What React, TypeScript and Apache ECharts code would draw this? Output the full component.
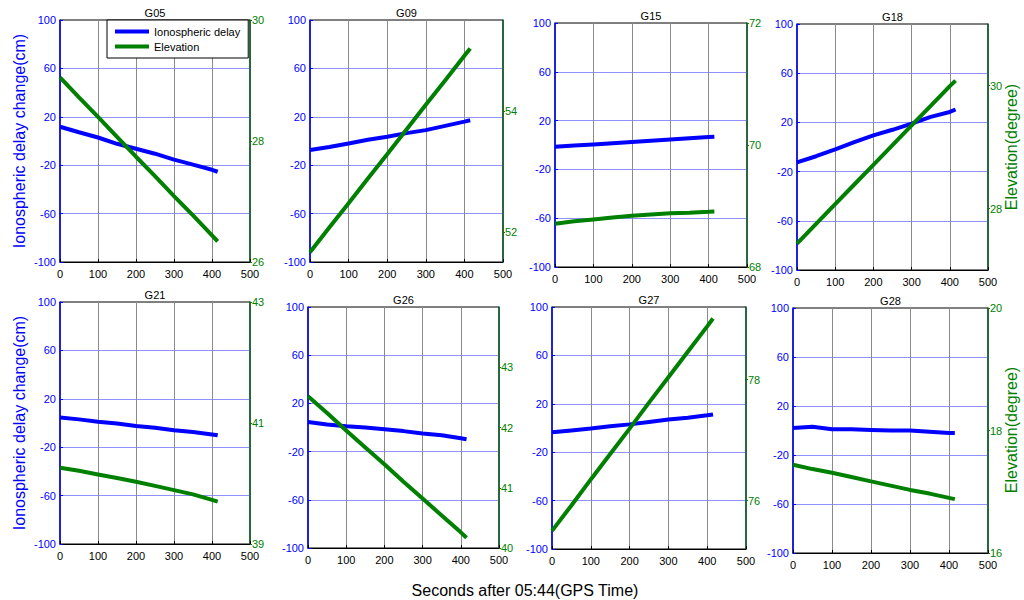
import React, { useEffect, useRef } from 'react';
import * as echarts from 'echarts';

// ---- data ----
const sats = ['G05', 'G09', 'G15', 'G18', 'G21', 'G26', 'G27', 'G28'];
const times = [0, 50, 100, 150, 200, 250, 300, 350, 400, 415];
const delayTicks = [-100, -60, -20, 20, 60, 100];

// ionospheric delay change (cm)
const delayG05 = [11.8, 7.2, 2.9, -2.3, -6.4, -10.5, -15.4, -19.5, -23.8, -25.4];
const delayG09 = [-7.5, -5, -2, 1, 3.5, 6.5, 9, 12.5, 16, 17.2];
const delayG15 = [-1.5, -0.5, 0.5, 1.5, 2.5, 3.5, 4.5, 5.5, 6.5, 6.8];
const delayG18 = [-12.5, -7.5, -2, 4, 9.5, 14, 19, 24.5, 28.5, 30.5];
const delayG21 = [4.5, 3, 1, -0.5, -2.5, -4, -6, -7.5, -9.5, -10.2];
const delayG26 = [4.5, 2.5, 1, 0, -1.5, -3, -5, -6.5, -9, -9.8];
const delayG27 = [-3.5, -2, -0.5, 1.5, 3, 5, 7, 8.5, 10.5, 11.2];
const delayG28 = [2, 3, 1, 1, 0.5, 0, 0, -1, -2, -2];

// elevation (degree)
const elevG05 = [29.05, 28.72, 28.4, 28.07, 27.74, 27.42, 27.09, 26.77, 26.44, 26.34];
const elevG09 = [51.66, 52.07, 52.47, 52.88, 53.28, 53.69, 54.1, 54.5, 54.91, 55.03];
const elevG15 = [68.71, 68.75, 68.78, 68.81, 68.84, 68.86, 68.88, 68.89, 68.905, 68.91];
const elevG18 = [27.43, 27.75, 28.07, 28.39, 28.71, 29.03, 29.35, 29.67, 29.99, 30.08];
const elevG21 = [40.26, 40.21, 40.15, 40.09, 40.03, 39.96, 39.89, 39.82, 39.73, 39.7];
const elevG26 = [42.52, 42.24, 41.95, 41.67, 41.39, 41.1, 40.82, 40.54, 40.26, 40.17];
const elevG27 = [75.5, 75.92, 76.35, 76.77, 77.19, 77.62, 78.04, 78.46, 78.88, 79.01];
const elevG28 = [17.44, 17.37, 17.31, 17.24, 17.17, 17.1, 17.03, 16.97, 16.9, 16.88];

const delays = [delayG05, delayG09, delayG15, delayG18, delayG21, delayG26, delayG27, delayG28];
const elevs = [elevG05, elevG09, elevG15, elevG18, elevG21, elevG26, elevG27, elevG28];

const elevMin = [26, 51.5, 68, 27, 39, 40, 75.2, 16];
const elevMax = [30, 55.5, 72, 31, 43, 44, 79.2, 20];
const elevTicks = [
  [26, 28, 30],
  [52, 54],
  [68, 70, 72],
  [28, 30],
  [39, 41, 43],
  [40, 41, 42, 43],
  [76, 78],
  [16, 18, 20],
];

// ---- layout (left, top, width, height) ----
const layout = [
  [60, 20, 190, 242],
  [310, 20, 193, 242],
  [555, 23, 192, 244],
  [797, 24, 191, 246],
  [60, 302, 190, 242],
  [308, 307, 191, 241],
  [552, 307, 194, 242],
  [793, 308, 195, 245],
];

const BLUE = '#0000ff';
const GREEN = '#008000';
const FONT = 'Liberation Sans, Arial, Helvetica, sans-serif';

export default function App() {
  const ref = useRef<HTMLDivElement>(null);

  useEffect(() => {
    document.body.style.margin = '0';
    if (!ref.current) return;
    const chart = echarts.init(ref.current, undefined, { renderer: 'svg' });

    const grid = layout.map(([l, t, w, h]) => ({
      left: l, top: t, width: w, height: h,
      show: true, borderColor: '#000', borderWidth: 1, backgroundColor: '#fff',
    }));

    const xAxis = layout.map((_, i) => ({
      type: 'value', gridIndex: i, min: 0, max: 500, interval: 100,
      axisLine: { show: true, onZero: false, lineStyle: { color: '#000', width: 1 } },
      axisTick: { show: true, inside: true, length: 3, lineStyle: { color: '#000' } },
      axisLabel: { color: '#000', fontSize: 11, margin: 6, fontFamily: FONT },
      splitLine: { show: true, showMinLine: false, showMaxLine: false, lineStyle: { color: '#8a8a8a', width: 1 } },
    }));

    const yAxis: any[] = [];
    layout.forEach((_, i) => {
      yAxis.push({
        type: 'value', gridIndex: i, position: 'left', min: -100, max: 100,
        axisLine: { show: true, onZero: false, lineStyle: { color: BLUE, width: 1.5 } },
        axisTick: { show: true, inside: true, length: 3, customValues: delayTicks, lineStyle: { color: BLUE } },
        axisLabel: { customValues: delayTicks, color: BLUE, fontSize: 11, margin: 4, fontFamily: FONT },
        splitLine: { show: true, showMinLine: false, showMaxLine: false, lineStyle: { color: '#9090ff', width: 1 } },
      });
      yAxis.push({
        type: 'value', gridIndex: i, position: 'right', min: elevMin[i], max: elevMax[i],
        axisLine: { show: true, onZero: false, lineStyle: { color: '#0b5f2a', width: 1.5 } },
        axisTick: { show: true, inside: false, length: 2, customValues: elevTicks[i], lineStyle: { color: GREEN } },
        axisLabel: { customValues: elevTicks[i], color: GREEN, fontSize: 11, margin: 2, fontFamily: FONT },
        splitLine: { show: false },
      });
    });

    const series: any[] = [];
    sats.forEach((_, i) => {
      series.push({
        type: 'line', name: 'Ionospheric delay', xAxisIndex: i, yAxisIndex: 2 * i,
        data: times.map((t, k) => [t, delays[i][k]]),
        showSymbol: false, symbol: 'none',
        lineStyle: { width: 4, color: BLUE }, itemStyle: { color: BLUE }, z: 3,
      });
      series.push({
        type: 'line', name: 'Elevation', xAxisIndex: i, yAxisIndex: 2 * i + 1,
        data: times.map((t, k) => [t, elevs[i][k]]),
        showSymbol: false, symbol: 'none',
        lineStyle: { width: 4, color: GREEN }, itemStyle: { color: GREEN }, z: 4,
      });
    });

    const graphic: any[] = [];
    layout.forEach(([l, t, w], i) => {
      graphic.push({
        type: 'text', x: l + w / 2, y: t - 7,
        style: { text: sats[i], fill: '#000', fontSize: 11, fontFamily: FONT, textAlign: 'center', textVerticalAlign: 'middle' },
      });
    });
    const yNameLeft = 'Ionospheric delay change(cm)';
    const yNameRight = 'Elevation(degree)';
    [141, 423].forEach((cy) => {
      graphic.push({
        type: 'text', x: 19, y: cy, rotation: Math.PI / 2,
        style: { text: yNameLeft, fill: BLUE, fontSize: 16, fontFamily: FONT, textAlign: 'center', textVerticalAlign: 'middle' },
      });
    });
    [147, 430].forEach((cy) => {
      graphic.push({
        type: 'text', x: 1011, y: cy, rotation: Math.PI / 2,
        style: { text: yNameRight, fill: GREEN, fontSize: 16, fontFamily: FONT, textAlign: 'center', textVerticalAlign: 'middle' },
      });
    });
    graphic.push({
      type: 'text', x: 525, y: 590,
      style: { text: 'Seconds after 05:44(GPS Time)', fill: '#000', fontSize: 16, fontFamily: FONT, textAlign: 'center', textVerticalAlign: 'middle' },
    });

    chart.setOption({
      animation: false,
      backgroundColor: '#fff',
      textStyle: { fontFamily: FONT },
      grid, xAxis, yAxis, series, graphic,
      legend: {
        data: [{ name: 'Ionospheric delay' }, { name: 'Elevation' }],
        orient: 'vertical', left: 107, top: 20,
        icon: 'rect', itemWidth: 34, itemHeight: 4, itemGap: 4,
        padding: [6, 8, 6, 8],
        backgroundColor: '#fff', borderColor: '#000', borderWidth: 1,
        textStyle: { fontSize: 11, color: '#000', fontFamily: FONT },
        selectedMode: false,
      },
    });

    return () => chart.dispose();
  }, []);

  return <div ref={ref} style={{ width: 1024, height: 600 }} />;
}
